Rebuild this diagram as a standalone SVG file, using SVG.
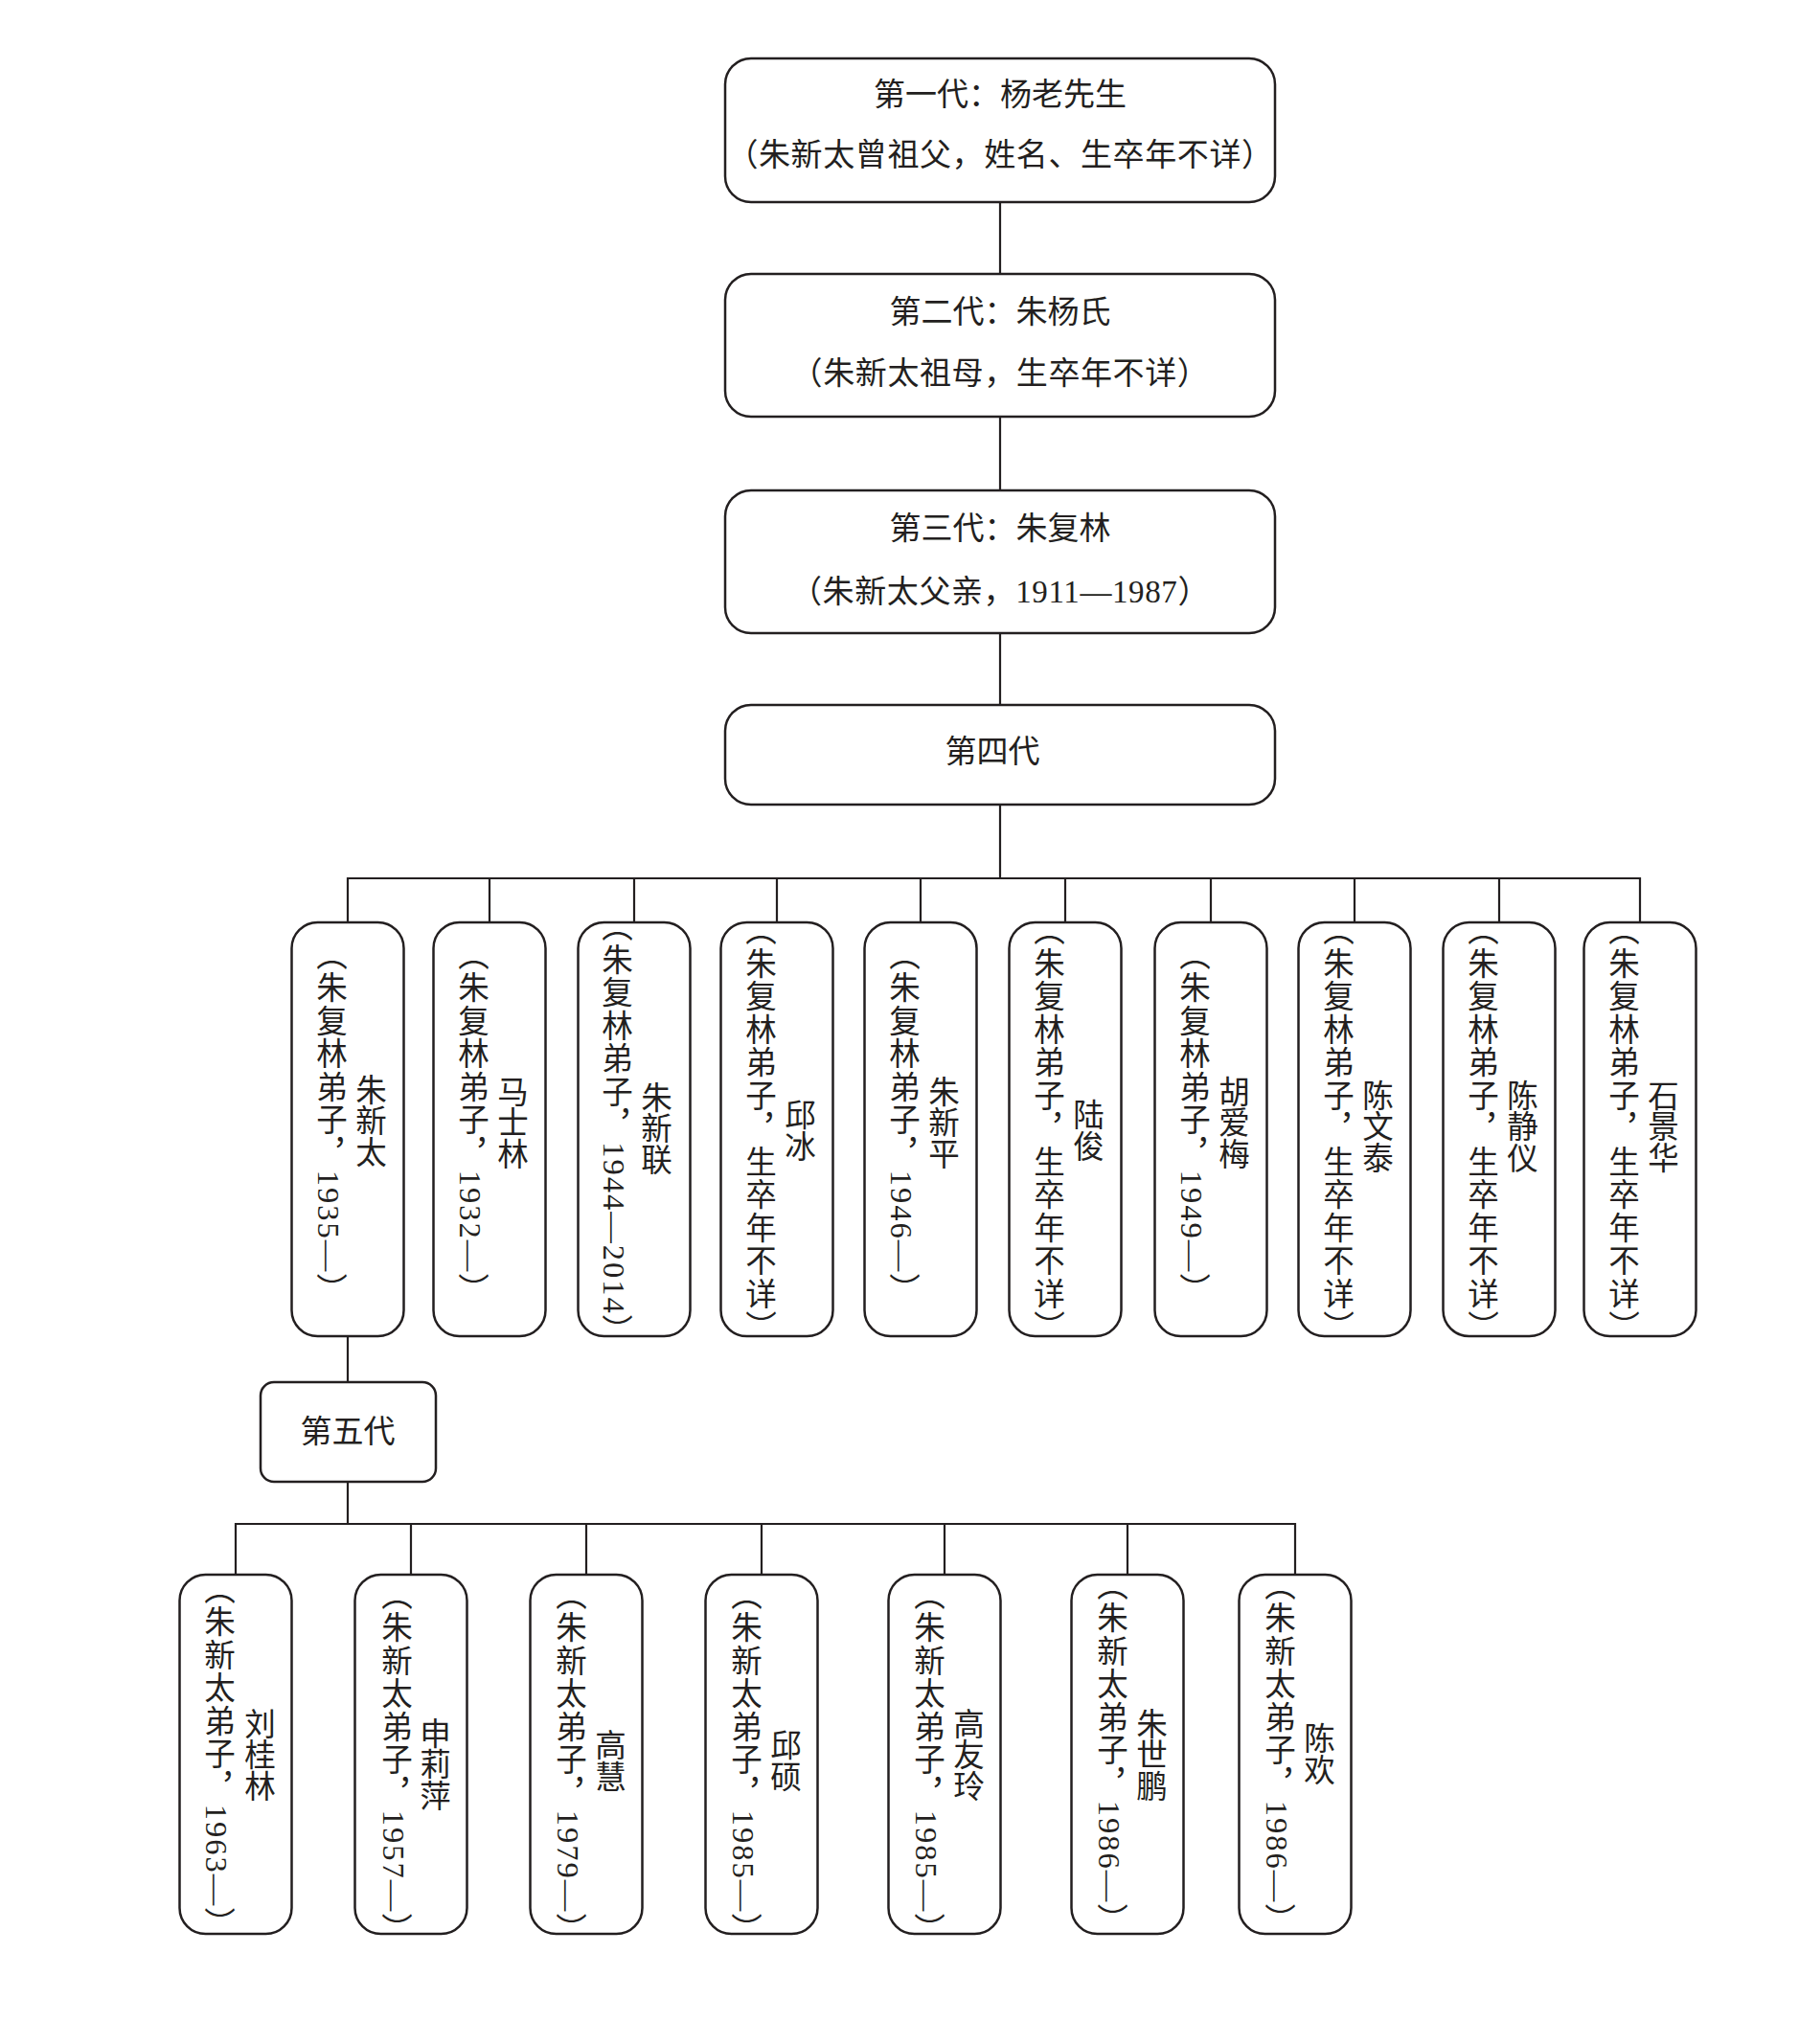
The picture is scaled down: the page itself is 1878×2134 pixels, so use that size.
<svg xmlns="http://www.w3.org/2000/svg" width="1878" height="2134" viewBox="0 0 1878 2134">
<style>
.box{fill:#fff;stroke:#231f20;stroke-width:2.5}
.ln{fill:none;stroke:#231f20;stroke-width:2.2}
.t{font-family:"Liberation Serif","Noto Sans CJK SC",serif;font-size:33px;fill:#231f20;text-anchor:middle}
.v{font-family:"Liberation Serif","Noto Sans CJK SC",serif;font-size:32.5px;fill:#231f20;text-anchor:middle;writing-mode:vertical-rl}
.p{letter-spacing:2px}
</style>
<rect width="1878" height="2134" fill="#fff"/>
<g id="connectors">
<path class="ln" d="M1044 211V286M1044 435V512M1044 661V736M1044 840V917"/>
<path class="ln" d="M363 963V917H1712V963M511 917V963M662 917V963M811 917V963M961 917V963M1112 917V963M1264 917V963M1414 917V963M1565 917V963"/>
<path class="ln" d="M363 1395V1443M363 1547V1591"/>
<path class="ln" d="M246 1644V1591H1352V1644M429 1591V1644M612 1591V1644M795 1591V1644M986 1591V1644M1177 1591V1644"/>
</g>
<g id="gen1"><rect class="box" x="757" y="61" width="574" height="150" rx="27"/><text class="t" x="1044" y="110">第一代：杨老先生</text><text class="t" x="1044" y="173" letter-spacing="0.6">（朱新太曾祖父，姓名、生卒年不详）</text></g>
<g id="gen2"><rect class="box" x="757" y="286" width="574" height="149" rx="27"/><text class="t" x="1044" y="337">第二代：朱杨氏</text><text class="t" x="1044" y="401" letter-spacing="0.6">（朱新太祖母，生卒年不详）</text></g>
<g id="gen3"><rect class="box" x="757" y="512" width="574" height="149" rx="27"/><text class="t" x="1044" y="563">第三代：朱复林</text><text class="t" x="1044" y="629" letter-spacing="0.6">（朱新太父亲，1911—1987）</text></g>
<g id="gen4"><rect class="box" x="757" y="736" width="574" height="104" rx="27"/><text class="t" x="1036" y="796">第四代</text></g>
<g id="g4-1"><rect class="box" x="304.5" y="963" width="117" height="432" rx="27"/><text class="v p" x="343" y="1172">（朱复林弟子，1935—）</text><text class="v" x="384" y="1170">朱新太</text></g>
<g id="g4-2"><rect class="box" x="452.5" y="963" width="117" height="432" rx="27"/><text class="v p" x="491" y="1172">（朱复林弟子，1932—）</text><text class="v" x="532" y="1172">马士林</text></g>
<g id="g4-3"><rect class="box" x="603.5" y="963" width="117" height="432" rx="27"/><text class="v p" x="641" y="1179">（朱复林弟子，1944—2014）</text><text class="v" x="682" y="1178">朱新联</text></g>
<g id="g4-4"><rect class="box" x="752.5" y="963" width="117" height="432" rx="27"/><text class="v p" x="791" y="1179">（朱复林弟子，生卒年不详）</text><text class="v" x="832" y="1180">邱冰</text></g>
<g id="g4-5"><rect class="box" x="902.5" y="963" width="117" height="432" rx="27"/><text class="v p" x="941" y="1172">（朱复林弟子，1946—）</text><text class="v" x="982" y="1172">朱新平</text></g>
<g id="g4-6"><rect class="box" x="1053.5" y="963" width="117" height="432" rx="27"/><text class="v p" x="1092" y="1179">（朱复林弟子，生卒年不详）</text><text class="v" x="1133" y="1180">陆俊</text></g>
<g id="g4-7"><rect class="box" x="1205.5" y="963" width="117" height="432" rx="27"/><text class="v p" x="1244" y="1172">（朱复林弟子，1949—）</text><text class="v" x="1285" y="1172">胡爱梅</text></g>
<g id="g4-8"><rect class="box" x="1355.5" y="963" width="117" height="432" rx="27"/><text class="v p" x="1394" y="1179">（朱复林弟子，生卒年不详）</text><text class="v" x="1435" y="1176">陈文泰</text></g>
<g id="g4-9"><rect class="box" x="1506.5" y="963" width="117" height="432" rx="27"/><text class="v p" x="1545" y="1179">（朱复林弟子，生卒年不详）</text><text class="v" x="1586" y="1176">陈静仪</text></g>
<g id="g4-10"><rect class="box" x="1653.5" y="963" width="117" height="432" rx="27"/><text class="v p" x="1692" y="1179">（朱复林弟子，生卒年不详）</text><text class="v" x="1733" y="1176">石景华</text></g>
<g id="gen5"><rect class="box" x="272" y="1443" width="183" height="104" rx="14"/><text class="t" x="363" y="1506">第五代</text></g>
<g id="g5-1"><rect class="box" x="187.5" y="1644" width="117" height="375" rx="27"/><text class="v p" x="226" y="1834">（朱新太弟子，1963—）</text><text class="v" x="268" y="1832">刘桂林</text></g>
<g id="g5-2"><rect class="box" x="370.5" y="1644" width="117" height="375" rx="27"/><text class="v p" x="411" y="1840">（朱新太弟子，1957—）</text><text class="v" x="451" y="1842">申莉萍</text></g>
<g id="g5-3"><rect class="box" x="553.5" y="1644" width="117" height="375" rx="27"/><text class="v p" x="593" y="1840">（朱新太弟子，1979—）</text><text class="v" x="634" y="1838">高慧</text></g>
<g id="g5-4"><rect class="box" x="736.5" y="1644" width="117" height="375" rx="27"/><text class="v p" x="776" y="1840">（朱新太弟子，1985—）</text><text class="v" x="817" y="1838">邱硕</text></g>
<g id="g5-5"><rect class="box" x="927.5" y="1644" width="117" height="375" rx="27"/><text class="v p" x="967" y="1840">（朱新太弟子，1985—）</text><text class="v" x="1008" y="1832">高友玲</text></g>
<g id="g5-6"><rect class="box" x="1118.5" y="1644" width="117" height="375" rx="27"/><text class="v p" x="1158" y="1830">（朱新太弟子，1986—）</text><text class="v" x="1199" y="1832">朱世鹏</text></g>
<g id="g5-7"><rect class="box" x="1293.5" y="1644" width="117" height="375" rx="27"/><text class="v p" x="1333" y="1830">（朱新太弟子，1986—）</text><text class="v" x="1374" y="1831">陈欢</text></g>
</svg>
